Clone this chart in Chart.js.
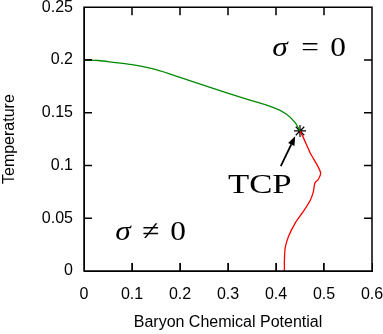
<!DOCTYPE html>
<html>
<head>
<meta charset="utf-8">
<script src="https://cdn.jsdelivr.net/npm/chart.js@4/dist/chart.umd.min.js"></script>
<style>
  body { margin: 0; background: #fff; }
  canvas { display: block; }
</style>
</head>
<body>
<canvas id="phaseChart" width="383" height="334"></canvas>
<script>
// crossover line (sigma goes to 0 smoothly), mu vs T
var greenMu = [0, 0.03, 0.061, 0.1, 0.15, 0.2, 0.269, 0.339, 0.394, 0.422, 0.44, 0.45];
var greenT = [0.2, 0.1995, 0.1978, 0.1955, 0.1908, 0.1835, 0.173, 0.1629, 0.155, 0.1486, 0.1406, 0.1327];

// first order line below the TCP
var redMu = [0.45, 0.457, 0.471, 0.485, 0.493, 0.488, 0.481, 0.478, 0.472, 0.457, 0.44, 0.426, 0.419, 0.4175, 0.4175];
var redT = [0.1327, 0.1264, 0.1121, 0.101, 0.093, 0.0867, 0.0835, 0.0755, 0.0676, 0.0565, 0.0454, 0.0327, 0.0216, 0.01, 0];

var tcpMu = [0.45];
var tcpT = [0.1327];

var xTickLabels = ["0", "0.1", "0.2", "0.3", "0.4", "0.5", "0.6"];
var yTickLabels = ["0", "0.05", "0.1", "0.15", "0.2", "0.25"];

// text labels: [mu, T] of left end of baseline
var tcpLabelPos = [0.3, 0.0743];
var sigmaZeroPos = [0.392, 0.204];
var sigmaNonZeroPos = [0.065, 0.0295];
// arrow from label to TCP: [mu0, T0, mu1, T1]
var arrowPos = [0.41, 0.0993, 0.44, 0.1276];

function toPoints(xs, ys) {
    return xs.map(function (x, i) { return { x: x, y: ys[i] }; });
}

// serif label, pieces placed at pixel offsets, stretched a bit like the TeX original
function drawPieces(c, x, y, pieces, sx) {
    pieces.forEach(function (p) {
        c.save();
        c.translate(x + p[2], y);
        c.scale(sx, 1);
        c.font = (p[1] ? "italic " : "") + "28px 'Liberation Serif'";
        c.fillText(p[0], 0, 0);
        c.restore();
    });
}

// box round the plot with short ticks pointing inwards
function drawBox(chart) {
    var c = chart.ctx;
    var a = chart.chartArea;
    var xs = chart.scales.x, ys = chart.scales.y;
    var len = 8;
    var right = xs.getPixelForValue(xs.max);
    c.save();
    c.strokeStyle = "#000";
    c.lineWidth = 1.5;
    c.beginPath();
    c.moveTo(a.left, a.top); c.lineTo(right, a.top);
    c.lineTo(right, a.bottom); c.lineTo(a.left, a.bottom);
    c.closePath();
    xs.ticks.forEach(function (tk) {
        var px = xs.getPixelForValue(tk.value);
        c.moveTo(px, a.bottom); c.lineTo(px, a.bottom - len);
        c.moveTo(px, a.top); c.lineTo(px, a.top + len);
    });
    ys.ticks.forEach(function (tk) {
        var py = ys.getPixelForValue(tk.value);
        c.moveTo(a.left, py); c.lineTo(a.left + len, py);
        c.moveTo(right, py); c.lineTo(right - len, py);
    });
    c.stroke();
    c.restore();
}

var annotations = {
    id: "annotations",
    afterDraw: function (chart) {
        var c = chart.ctx;
        var xs = chart.scales.x, ys = chart.scales.y;
        c.save();
        c.fillStyle = "#000";
        c.textBaseline = "alphabetic";

        drawPieces(c, xs.getPixelForValue(sigmaZeroPos[0]), ys.getPixelForValue(sigmaZeroPos[1]),
            [["σ", true, 0], ["=", false, 29], ["0", false, 58]], 1.12);
        drawPieces(c, xs.getPixelForValue(sigmaNonZeroPos[0]), ys.getPixelForValue(sigmaNonZeroPos[1]),
            [["σ", true, 0], ["≠", false, 27], ["0", false, 55]], 1.12);
        drawPieces(c, xs.getPixelForValue(tcpLabelPos[0]), ys.getPixelForValue(tcpLabelPos[1]),
            [["TCP", false, 0]], 1.24);

        // arrow
        var x0 = xs.getPixelForValue(arrowPos[0]), y0 = ys.getPixelForValue(arrowPos[1]);
        var x1 = xs.getPixelForValue(arrowPos[2]), y1 = ys.getPixelForValue(arrowPos[3]);
        var ang = Math.atan2(y1 - y0, x1 - x0);
        var hl = 9, hw = 3.5;
        c.strokeStyle = "#000";
        c.lineWidth = 1.8;
        c.beginPath();
        c.moveTo(x0, y0);
        c.lineTo(x1 - hl * Math.cos(ang), y1 - hl * Math.sin(ang));
        c.stroke();
        c.beginPath();
        c.moveTo(x1, y1);
        c.lineTo(x1 - hl * Math.cos(ang) + hw * Math.sin(ang), y1 - hl * Math.sin(ang) - hw * Math.cos(ang));
        c.lineTo(x1 - hl * Math.cos(ang) - hw * Math.sin(ang), y1 - hl * Math.sin(ang) + hw * Math.cos(ang));
        c.closePath();
        c.fill();
        c.restore();

        drawBox(chart);
    }
};

// frame axes: black border, short ticks pointing into the plot
var frameGrid = { display: true, drawOnChartArea: false, drawTicks: true, tickLength: -8, color: "#000", lineWidth: 1 };
var frameBorder = { display: true, color: "#000", width: 1 };
var tickFont = { family: "Liberation Sans", size: 16 };
var titleFont = { family: "Liberation Sans", size: 16 };

var phaseChart = new Chart(document.getElementById("phaseChart").getContext("2d"), {
    type: "scatter",
    data: {
        datasets: [{
            data: toPoints(greenMu, greenT),
            showLine: true,
            borderColor: "#008a00",
            borderWidth: 1.3,
            pointRadius: 0,
            tension: 0.3
        }, {
            data: toPoints(redMu, redT),
            showLine: true,
            borderColor: "#ff0000",
            borderWidth: 1.3,
            pointRadius: 0,
            tension: 0.2
        }, {
            data: toPoints(tcpMu, tcpT),
            pointStyle: "star",
            pointRadius: 6,
            borderColor: "#000",
            backgroundColor: "#000",
            borderWidth: 1.2
        }]
    },
    options: {
        responsive: false,
        animation: false,
        layout: { padding: { top: 7, right: 11, left: 0, bottom: 0 } },
        plugins: {
            legend: { display: false },
            tooltip: { enabled: false }
        },
        scales: {
            x: {
                type: "linear",
                position: "bottom",
                min: 0,
                max: 0.6,
                grid: frameGrid,
                border: frameBorder,
                ticks: {
                    stepSize: 0.1,
                    maxRotation: 0,
                    padding: 22,
                    color: "#000",
                    font: tickFont,
                    callback: function (value, index) { return xTickLabels[index]; }
                },
                title: {
                    display: true,
                    text: "Baryon Chemical Potential",
                    color: "#000",
                    font: titleFont,
                    padding: { top: 0, bottom: 2 }
                },
                afterFit: function (scale) {
                    scale.height = 63;
                    scale.paddingLeft = 0;
                    scale.paddingRight = 0;
                }
            },
            y: {
                type: "linear",
                position: "left",
                min: 0,
                max: 0.25,
                grid: frameGrid,
                border: frameBorder,
                ticks: {
                    stepSize: 0.05,
                    padding: 19,
                    color: "#000",
                    font: tickFont,
                    callback: function (value, index) { return yTickLabels[index]; }
                },
                title: {
                    display: true,
                    text: "Temperature",
                    color: "#000",
                    font: titleFont,
                    padding: { top: 0, bottom: 0 }
                },
                afterFit: function (scale) {
                    scale.width = 84;
                    scale.paddingTop = 0;
                    scale.paddingBottom = 0;
                }
            }
        }
    },
    plugins: [annotations]
});
</script>
</body>
</html>
